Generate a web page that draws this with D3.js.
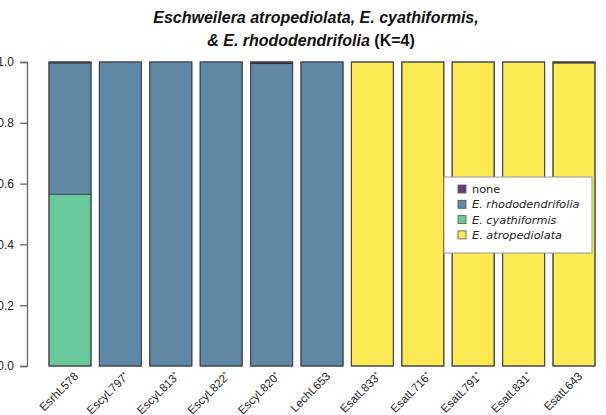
<!DOCTYPE html>
<html>
<head>
<meta charset="utf-8">
<script src="https://cdn.jsdelivr.net/npm/d3@7"></script>
<style>
  html, body { margin: 0; padding: 0; background: #fff; }
  svg { display: block; }
</style>
</head>
<body>
<svg id="chart" width="606" height="415"></svg>
<script>
// Sample labels (asterisk marks flagged samples)
const samples = ["EsrhL578", "EscyL797*", "EscyL813*", "EscyL822*", "EscyL820*", "LechL653",
                 "EsatL833*", "EsatL716*", "EsatL791*", "EsatL831*", "EsatL643"];

// Ancestry proportions per cluster (K=4), one array per cluster
const atropediolata  = [0.000, 0, 0, 0, 0.000, 0, 1, 1, 1, 1, 0.997];
const cyathiformis   = [0.565, 0, 0, 0, 0.000, 0, 0, 0, 0, 0, 0.000];
const rhododendrifolia = [0.432, 1, 1, 1, 0.995, 1, 0, 0, 0, 0, 0.000];
const noneCluster    = [0.003, 0, 0, 0, 0.005, 0, 0, 0, 0, 0, 0.003];

// Stack order from bottom to top
const clusterKeys   = ["atro", "cyath", "rhodo", "none"];
const clusterNames  = {none: "none", rhodo: "E. rhododendrifolia", cyath: "E. cyathiformis", atro: "E. atropediolata"};
const clusterColors = {none: "#6a3b7c", rhodo: "#6089a8", cyath: "#68c99b", atro: "#fde951"};
const legendOrder   = ["none", "rhodo", "cyath", "atro"];

const yTicks = [0, 0.2, 0.4, 0.6, 0.8, 1.0];

const rows = samples.map((s, i) => ({
  sample: s,
  atro: atropediolata[i],
  cyath: cyathiformis[i],
  rhodo: rhododendrifolia[i],
  none: noneCluster[i]
}));

const svg = d3.select("#chart");

const x = d3.scaleBand()
  .domain(samples)
  .range([44.8, 599.2])
  .paddingInner(1 / 6)
  .paddingOuter(1 / 12);

const y = d3.scaleLinear().domain([0, 1]).range([366, 62]);

const series = d3.stack().keys(clusterKeys)(rows);

// Stacked bars
const gBars = svg.append("g");
series.forEach(layer => {
  gBars.selectAll(null)
    .data(layer.filter(d => d[1] - d[0] > 0))
    .join("rect")
    .attr("x", d => x(d.data.sample))
    .attr("width", x.bandwidth())
    .attr("y", d => y(d[1]))
    .attr("height", d => y(d[0]) - y(d[1]))
    .attr("fill", clusterColors[layer.key])
    .attr("stroke", layer.key === "none" ? "#2e2433" : "#3d4347")
    .attr("stroke-width", 1)
    .attr("stroke-opacity", 0.85);
});

// Outline around each full bar
gBars.selectAll(null)
  .data(rows)
  .join("rect")
  .attr("x", d => x(d.sample))
  .attr("width", x.bandwidth())
  .attr("y", y(1))
  .attr("height", y(0) - y(1))
  .attr("fill", "none")
  .attr("stroke", "#44484c")
  .attr("stroke-width", 1.1);

// Y axis
const yAxis = d3.axisLeft(y)
  .tickValues(yTicks)
  .tickFormat(d3.format(".1f"))
  .tickSize(7)
  .tickPadding(6);

const gy = svg.append("g")
  .attr("transform", "translate(27,0)")
  .call(yAxis);
gy.select(".domain").attr("stroke", "#666").attr("stroke-width", 1.3);
gy.selectAll(".tick line").attr("stroke", "#666").attr("stroke-width", 1.3);
gy.selectAll(".tick text")
  .attr("font-family", "Liberation Sans, Arial, sans-serif")
  .attr("font-size", 12)
  .attr("fill", "#222");

// Rotated sample labels
svg.append("g")
  .selectAll("text")
  .data(samples)
  .join("text")
  .attr("transform", d => `translate(${x(d) + x.bandwidth() / 2 + 9},${377}) rotate(-45)`)
  .attr("text-anchor", "end")
  .attr("font-family", "Liberation Sans, Arial, sans-serif")
  .attr("font-size", 11.5)
  .attr("fill", "#222")
  .each(function (d) {
    const t = d3.select(this);
    const base = d.replace("*", "");
    t.append("tspan").text(base);
    if (d.endsWith("*")) {
      t.append("tspan").attr("font-size", 8).attr("dy", -3).text("*");
    }
  });

// Title
const title = svg.append("g")
  .attr("font-family", "Liberation Sans, Arial, sans-serif")
  .attr("font-weight", "bold")
  .attr("font-size", 16)
  .attr("fill", "#111")
  .attr("text-anchor", "middle");
title.append("text")
  .attr("x", 316).attr("y", 23)
  .attr("font-style", "italic")
  .text("Eschweilera atropediolata, E. cyathiformis,");
const t2 = title.append("text").attr("x", 311).attr("y", 46);
t2.append("tspan").attr("font-style", "italic").text("& E. rhododendrifolia");
t2.append("tspan").text(" (K=4)");

// Legend
const legend = svg.append("g").attr("transform", "translate(444,177)");
legend.append("rect")
  .attr("width", 148).attr("height", 76)
  .attr("fill", "#fff")
  .attr("stroke", "#9a9a9a")
  .attr("stroke-width", 1);
const items = legend.selectAll("g.item")
  .data(legendOrder)
  .join("g")
  .attr("class", "item")
  .attr("transform", (d, i) => `translate(0,${16 + i * 15.3})`);
items.append("rect")
  .attr("x", 14).attr("y", -8)
  .attr("width", 8).attr("height", 8)
  .attr("fill", d => clusterColors[d])
  .attr("stroke", "#555").attr("stroke-width", 0.8);
items.append("text")
  .attr("x", 28).attr("y", 0)
  .attr("font-family", "DejaVu Sans, sans-serif")
  .attr("font-size", 11.3)
  .attr("font-style", d => d === "none" ? "normal" : "italic")
  .attr("fill", "#222")
  .text(d => clusterNames[d]);
</script>
</body>
</html>
